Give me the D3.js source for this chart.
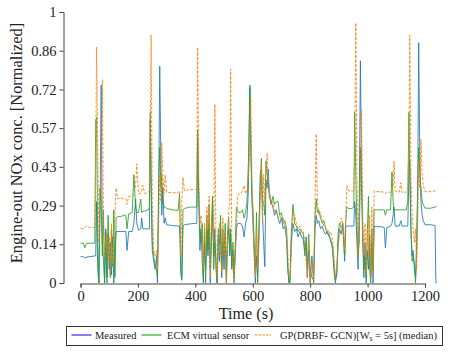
<!DOCTYPE html>
<html>
<head>
<meta charset="utf-8">
<script src="https://cdn.jsdelivr.net/npm/d3@7"></script>
<style>
  body { margin: 0; background: #fff; }
</style>
</head>
<body>
<div id="root"></div>
<script>
// size of the picture
let width = 458, height = 355;
const serif = "'Liberation Serif', 'DejaVu Serif'";

// time axis (s)
const times = [
  0, 10, 15, 20, 30, 40, 50,
  53, 56, 60, 64, 68, 72, 76, 80, 84, 88, 92, 96, 100, 104, 108, 112, 116, 120, 124,
  130, 140, 150, 158, 162, 168, 180, 186, 192, 196, 202, 210, 213, 217, 224, 236,
  240, 243, 246, 250, 255, 260, 265, 268, 272, 276, 280, 283, 287, 291,
  295, 300, 320, 340, 345, 350, 353, 357, 362, 380, 400,
  405, 408, 412, 416, 420, 424, 428, 432, 436, 440, 444, 448, 452, 456, 460, 464, 468, 472, 476, 480,
  484, 488, 492, 496, 500, 504, 508, 512, 516, 520, 523, 527, 531, 535, 539, 543, 547, 552, 558, 564,
  570, 575, 580, 585, 590, 593, 597, 601, 605, 609, 613, 617,
  622, 626, 630, 634, 638, 642, 646, 650, 654, 658, 664, 670, 676, 682, 688, 694, 700, 706, 712, 718,
  722, 726, 730, 734, 740, 746, 752, 758, 764, 770, 776, 782, 786, 790, 795, 800, 806, 812, 817, 821,
  825, 830, 836, 842, 848, 854, 860, 866, 872, 878, 884, 888, 893, 897, 902, 908, 914, 920, 924, 928,
  934, 945, 952,
  955, 959, 963, 967, 971, 975, 979, 983, 987, 991, 995, 999, 1003, 1007, 1011, 1015, 1019, 1023,
  1030, 1045, 1058, 1062, 1067, 1080, 1085, 1089, 1092, 1096, 1110, 1116, 1120, 1135,
  1140, 1144, 1147, 1151, 1155, 1159, 1163, 1167, 1171, 1175, 1178, 1182, 1186, 1190, 1194, 1200,
  1220, 1235, 1238, 1240
];

// Measured NOx (normalized)
const measured = [
  .097, .097, .092, .095, .097, .098, .100,
  .10, .30, .05, 0, .25, .73, .15, .08, 0, .20, .02, .18, .05, .15, .03, .17, 0, .12, .19,
  .19, .19, .19, .19, .12, .19, .19, .22, .31, .22, .195, .20, .24, .20, .20, .20,
  .20, .60, .35, .12, .08, .05, .10, 0, .30, .80, .45, .25, .35, .22,
  .24, .215, .212, .21, .21, .03, .01, .21, .215, .218, .22,
  .22, .53, .30, .12, .20, .08, 0, .15, .05, .20, .10, .22, 0, .15, .30, .10, .20, .05, 0, .18,
  .08, .20, .02, .15, .05, .18, 0, .14, .20, .10, .18, .05, .12, .02, .10, .20, .22, .22, .22, .21,
  .17, .22, .24, .35, .73, .55, .30, .22, .10, 0, .10, .02,
  .20, .40, .42, .25, .15, .06, .38, .35, .42, .33, .30, .28, .25, .27, .24, .22, .24, .20, .21, .16,
  .05, 0, .02, .15, .22, .19, .20, .17, .19, .17, .16, .10, .17, .02, .12, 0, .10, 0, .20, .25,
  .22, .23, .20, .21, .19, .18, .19, .17, .16, .12, .03, 0, .05, .14, .20, .18, .22, .08, .21, .21,
  .21, .21, .21,
  .30, .25, .15, .05, .30, .82, .40, .15, .02, .15, 0, .12, .05, .18, .02, .15, 0, .21,
  .208, .208, .205, .13, .205, .21, .22, .25, .28, .21, .21, .23, .21, .21,
  .21, .40, .45, .20, .10, .12, .05, .02, .15, .40, .887, .45, .30, .25, .23, .215,
  .215, .212, 0, 0
];

// ECM virtual sensor
const ecm = [
  .147, .147, .130, .145, .147, .147, .147,
  .60, .61, .15, 0, .35, .30, .10, .27, .02, .18, 0, .25, .12, .02, .20, .06, .27, .02, .24,
  .245, .245, .25, .25, .20, .255, .26, .40, .28, .26, .26, .31, .26, .265, .265, .27,
  .28, .63, .40, .15, .10, .06, .05, .02, .35, .50, .35, .40, .30, .28,
  .28, .275, .27, .268, .33, .05, .02, .27, .275, .28, .28,
  .28, .565, .32, .20, .15, .22, .02, .20, 0, .25, .12, .29, .05, .18, .32, .05, .15, .08, 0, .20,
  .14, .25, .05, .20, .10, .22, .02, .18, .24, .12, .20, .06, .15, 0, .14, .28, .27, .26, .26, .27,
  .24, .26, .30, .45, .72, .50, .35, .27, .15, .05, .26, 0,
  .22, .35, .46, .30, .30, .25, .45, .40, .37, .32, .29, .32, .29, .30, .30, .25, .26, .22, .23, .20,
  .06, .01, 0, .18, .29, .22, .21, .19, .20, .19, .18, .12, .15, .05, .18, .05, .02, .01, .25, .31,
  .26, .27, .24, .22, .23, .20, .18, .18, .15, .14, .05, .01, .03, .18, .22, .21, .20, .10, .23, .28,
  .275, .275, .28,
  .63, .40, .20, .10, .15, .50, .35, .20, .05, .10, .02, .18, .32, .05, 0, .20, .05, .27,
  .27, .27, .27, .25, .27, .27, .41, .30, .27, .27, .27, .27, .27, .27,
  .30, .63, .40, .20, .08, .10, .07, 0, .10, .35, .50, .40, .35, .30, .29, .276,
  .276, .28, .283, .283
];

// GP(DRBF-GCN) median
const gp = [
  .203, .200, .205, .210, .205, .205, .205,
  .45, .87, .50, .15, .28, .29, .75, .22, .10, .16, .19, .08, .17, .03, .22, .06, .18, .26, .35,
  .31, .315, .31, .31, .29, .32, .32, .33, .36, .44, .33, .33, .34, .36, .33, .335,
  .34, .55, .915, .30, .12, .10, .12, .05, .20, .40, .30, .52, .40, .33,
  .40, .335, .333, .333, .34, .10, .30, .39, .34, .345, .345,
  .35, .87, .40, .22, .25, .15, .05, .22, .10, .28, .20, .32, .02, .25, .20, .15, .66, .10, .02, .16,
  .22, .10, .04, .24, .10, .19, 0, .15, .26, .30, .79, .15, .05, .02, .12, .18, .32, .33, .33, .34,
  .36, .33, .34, .40, .50, .68, .40, .20, .12, .02, .20, .05,
  .15, .30, .44, .22, .40, .30, .40, .48, .36, .34, .29, .30, .26, .27, .24, .25, .23, .24, .20, .18,
  .12, .03, .02, .10, .26, .25, .22, .20, .21, .19, .19, .15, .08, .02, .15, 0, .08, .01, .30, .55,
  .30, .25, .26, .23, .21, .20, .20, .18, .19, .16, .08, .02, .06, .12, .18, .24, .22, .12, .25, .36,
  .34, .34, .34,
  .50, .96, .40, .10, .20, .35, .64, .25, .10, .22, .03, .20, .10, .25, .02, .28, .05, .34,
  .337, .337, .335, .33, .335, .335, .34, .36, .45, .34, .335, .37, .335, .335,
  .34, .50, .915, .40, .25, .20, .15, .20, .05, .25, .45, .35, .53, .40, .36, .337,
  .337, .34, .338, .338
];

// y tick positions (k/7) and their printed labels
const yTickValues = [0, 0.142857, 0.285714, 0.428571, 0.571429, 0.714286, 0.857143, 1];
const yTickLabels = ['0', '0.14', '0.29', '0.43', '0.57', '0.72', '0.86', '1'];
const xTickValues = [0, 200, 400, 600, 800, 1000, 1200];

// series names and colours
const seriesNames = ['Measured', 'ECM virtual sensor', 'GP(DRBF- GCN)[W_s = 5s] (median)'];
const lineColors = ['#1f77b4', '#2ca02c', '#ff7f0e'];
const legendColors = ['#0000ff', '#00a000', '#ff7f0e'];

var svg = d3.select('#root')
  .append('svg')
  .attr('width', width)
  .attr('height', height);

var xScale = d3.scaleLinear()
  .domain([0, 1200])
  .range([80.5, 425]);

var yScale = d3.scaleLinear()
  .domain([0, 1])
  .range([283, 12]);

// data lines, orange on top
var allSeries = [measured, ecm, gp];
allSeries.forEach((vals, k) => {
  var line = d3.line()
    .x((d, i) => xScale(times[i]))
    .y(d => yScale(d));
  svg.append('path')
    .datum(vals)
    .attr('d', line)
    .attr('fill', 'none')
    .attr('stroke', lineColors[k])
    .attr('stroke-width', 1)
    .attr('stroke-opacity', 0.85)
    .attr('stroke-linejoin', 'round')
    .attr('stroke-dasharray', k == 2 ? '3,1.5' : null);
});

// y axis (offset spine)
var yAxis = svg.append('g')
  .attr('transform', 'translate(63.5,0)')
  .call(d3.axisLeft(yScale)
    .tickValues(yTickValues)
    .tickFormat((d, i) => yTickLabels[i])
    .tickSizeOuter(0)
    .tickSize(4)
    .tickPadding(3));

// x axis
var xAxis = svg.append('g')
  .attr('transform', 'translate(0,283.5)')
  .call(d3.axisBottom(xScale)
    .tickValues(xTickValues)
    .tickFormat(d3.format('d'))
    .tickSizeOuter(0)
    .tickSize(4)
    .tickPadding(3));

[yAxis, xAxis].forEach(ax => {
  ax.attr('font-family', serif);
  ax.select('.domain').attr('stroke', '#444').attr('stroke-width', 1);
  ax.selectAll('.tick line').attr('stroke', '#444');
  ax.selectAll('.tick text')
    .style('font-family', serif)
    .style('font-size', '14.5px')
    .attr('fill', '#222');
});

// axis titles
svg.append('text')
  .attr('transform', 'translate(22,143) rotate(-90)')
  .attr('text-anchor', 'middle')
  .style('font-family', serif)
  .style('font-size', '16.4px')
  .attr('fill', '#222')
  .text('Engine-out NOx conc. [Normalized]');

svg.append('text')
  .attr('x', 246)
  .attr('y', 319)
  .attr('text-anchor', 'middle')
  .style('font-family', serif)
  .style('font-size', '16.2px')
  .attr('fill', '#222')
  .text('Time (s)');

// legend
var legend = svg.append('g');
legend.append('rect')
  .attr('x', 66.5).attr('y', 326.5)
  .attr('width', 376).attr('height', 19)
  .attr('fill', '#fff')
  .attr('stroke', '#333')
  .attr('stroke-width', 1);

var legendItems = [
  {x1: 71.5, x2: 91.5, tx: 95},
  {x1: 141.5, x2: 161.5, tx: 167},
  {x1: 255, x2: 271, tx: 280}
];
legendItems.forEach((it, k) => {
  legend.append('line')
    .attr('x1', it.x1).attr('x2', it.x2)
    .attr('y1', 335).attr('y2', 335)
    .attr('stroke', legendColors[k])
    .attr('stroke-width', 1)
    .attr('stroke-dasharray', k == 2 ? '2.5,1.2' : null);
  var t = legend.append('text')
    .attr('x', it.tx)
    .attr('y', 338.5)
    .style('font-family', serif)
    .style('font-size', '10.5px')
    .attr('fill', '#222');
  if (k < 2) {
    t.text(seriesNames[k]);
  } else {
    t.append('tspan').text('GP(DRBF- GCN)[W');
    t.append('tspan').attr('dy', 2).style('font-size', '7.5px').text('s');
    t.append('tspan').attr('dy', -2).text(' = 5s] (median)');
  }
});
</script>
</body>
</html>
